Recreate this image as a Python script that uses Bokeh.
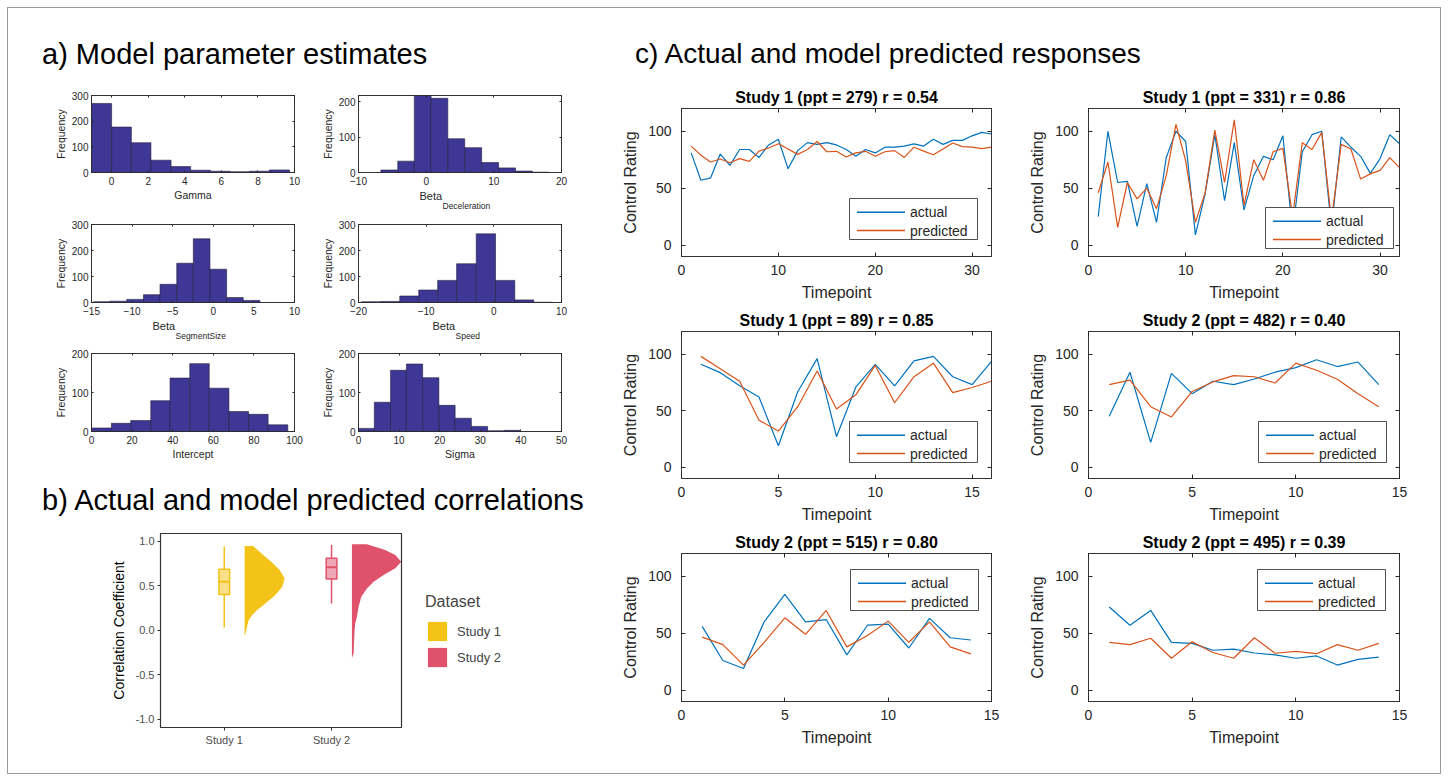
from bokeh.plotting import figure
from bokeh.models import (Range1d, LinearAxis, FixedTicker, Legend, LegendItem, Title, Label,
                          BoxAnnotation, Div, NumeralTickFormatter)
from bokeh.layouts import row, column
from bokeh.embed import file_html
from bokeh.resources import INLINE

# ---------------- data: a) histograms ----------------
gamma_edges = [-1.09, 0.0, 1.08, 2.15, 3.25, 4.32, 5.40, 6.48, 7.55, 8.63, 9.73]
gamma_counts = [269, 177, 116, 48, 23, 9, 5, 3, 5, 10]
decel_edges = [-6.7, -4.2, -1.75, 0.73, 3.2, 5.7, 8.2, 10.7, 13.2, 15.7, 18.2]
decel_counts = [7, 32, 217, 209, 95, 70, 28, 13, 4, 1]
segsize_edges = [-14.75, -12.75, -10.66, -8.6, -6.56, -4.5, -2.46, -0.41, 1.64, 3.69, 5.74]
segsize_counts = [3, 5, 12, 30, 70, 151, 245, 128, 19, 8]
speed_edges = [-19.56, -16.7, -13.9, -11.1, -8.3, -5.5, -2.6, 0.25, 3.1, 5.9, 8.7]
speed_counts = [3, 4, 25, 48, 85, 149, 264, 85, 10, 1]
intercept_edges = [0, 9.8, 19.3, 29.2, 38.7, 48.4, 58.0, 67.7, 77.4, 87.0, 96.7]
intercept_counts = [9, 21, 28, 79, 137, 174, 111, 51, 44, 17]
sigma_edges = [0, 3.9, 7.9, 11.8, 15.8, 19.8, 23.8, 27.8, 31.8, 35.9, 39.9]
sigma_counts = [8, 75, 157, 173, 138, 67, 34, 13, 2, 3]

# ---------------- data: b) raincloud ----------------
study_names = ["Study 1", "Study 2"]
study_pos = [1, 2]
violin_base = [1.19, 2.19]
s1_y = [-0.064, -0.037, 0.038, 0.113, 0.169, 0.225, 0.301, 0.395, 0.488, 0.583, 0.676, 0.752, 0.865, 0.947]
s1_w = [0.0, 0.009, 0.022, 0.037, 0.068, 0.115, 0.193, 0.286, 0.351, 0.373, 0.326, 0.264, 0.155, 0.078]
s2_y = [-0.312, -0.263, -0.15, 0.0, 0.075, 0.15, 0.263, 0.376, 0.47, 0.545, 0.62, 0.696, 0.77, 0.846, 0.902, 0.966]
s2_w = [0.0, 0.016, 0.019, 0.025, 0.031, 0.047, 0.062, 0.087, 0.14, 0.202, 0.295, 0.404, 0.46, 0.404, 0.31, 0.14]
whisk_lo = [0.03, 0.30]
whisk_hi = [0.94, 0.958]
q1 = [0.40, 0.575]
median = [0.545, 0.707]
q3 = [0.684, 0.81]

# ---------------- data: c) time series ----------------
series_labels = ["actual", "predicted"]
p279_actual = [81, 57, 59, 80, 70, 84, 84, 77, 88, 93, 67, 83, 90, 88.5, 90, 88, 84, 78, 84, 81, 86, 86,
               87, 89, 87, 93, 88.5, 92, 92, 96, 99, 97.6]
p279_pred = [87, 79, 73, 75.6, 72.4, 76, 73.5, 82.6, 85.3, 89, 84.4, 79.7, 84, 91, 82, 82.4, 77.4, 81, 82.4,
             78, 82, 83, 77, 86, 82.6, 79.4, 84.4, 89.7, 86.5, 86, 84.7, 86]
p331_actual = [25, 100, 55, 56, 16.5, 54, 20, 77, 100, 91, 9, 45, 97, 39, 90, 31, 61, 78, 75, 96, 12, 82,
               97, 100, 15, 95, 86, 78, 63, 76, 97, 89]
p331_pred = [46, 73, 15.6, 55, 40.6, 50, 32, 61, 106, 74, 20, 46, 101, 55, 110, 35, 75, 57, 82, 85, 25, 90,
             84, 99, 22, 88.5, 84.4, 58, 62.6, 65.6, 76.8, 68]
p89_actual = [91, 83.6, 72, 62, 19, 66.7, 96, 27, 71, 91, 72, 94, 98, 80, 73, 93.5]
p89_pred = [98, 87, 76, 41.5, 32, 53.5, 85, 51.5, 64, 90, 57, 80, 92, 66, 70.5, 76]
p482_actual = [45, 84, 22, 83, 65, 76, 73, 78, 84, 88, 95, 89, 93, 73]
p482_pred = [73, 77, 53.5, 44.4, 67, 75.4, 81, 80, 74.5, 92, 85.7, 77.8, 65, 53.5]
p515_actual = [56, 26, 19, 60, 84, 60, 62, 31, 57, 58, 37, 63, 46, 44]
p515_pred = [46.5, 40, 22, 42, 63.5, 49, 70, 38, 48, 60.6, 42, 60, 38, 31.8]
p495_actual = [73, 57, 70, 42, 41, 35, 36, 32.6, 31, 28, 30, 22, 27, 29]
p495_pred = [42, 40, 45.6, 28, 42.4, 33, 28, 46, 32.4, 34, 32, 40, 35, 41]

# ---------------- styling ----------------
FONT = "Liberation Sans"
MAT = "#262626"
BAR = "#3F3796"
BLUE = "#0072BD"
ORANGE = "#D95319"
YEL = "#F4C318"
YEL_L = "#F8DF8A"
PINK = "#E0526C"
PINK_L = "#EEA7B4"


def base_fig(w, h, xr, yr, bl, br, bt, bb):
    p = figure(width=w, height=h, x_range=Range1d(*xr), y_range=Range1d(*yr),
               min_border_left=bl, min_border_right=br, min_border_top=bt, min_border_bottom=bb,
               output_backend="svg", toolbar_location=None)
    p.xgrid.visible = False
    p.ygrid.visible = False
    p.background_fill_color = "white"
    p.border_fill_color = "white"
    return p


def dummy_axis(ticks, tick_len):
    return LinearAxis(ticker=FixedTicker(ticks=ticks), axis_label=None,
                      major_label_text_font_size="1px", major_label_text_color=None,
                      major_label_standoff=0, major_tick_in=tick_len, major_tick_out=0,
                      minor_tick_line_color=None, axis_line_color=MAT, axis_line_alpha=0.75,
                      major_tick_line_color=MAT)


def matlab_axes(p, xticks, yticks, tick_fs, lab_fs, tick_len, xstand, ystand, xlabstand, ylabstand,
                xlabel, ylabel):
    xa = p.below[0]
    ya = p.left[0]
    p.outline_line_color = MAT
    p.outline_line_width = 1
    p.outline_line_alpha = 0.75
    xa.ticker = FixedTicker(ticks=xticks)
    ya.ticker = FixedTicker(ticks=yticks)
    for ax in (xa, ya):
        ax.major_tick_in = tick_len
        ax.major_tick_out = 0
        ax.minor_tick_line_color = None
        ax.axis_line_color = MAT
        ax.axis_line_alpha = 0.75
        ax.major_tick_line_color = MAT
        ax.major_label_text_font = FONT
        ax.major_label_text_font_size = tick_fs
        ax.major_label_text_color = MAT
        ax.axis_label_text_font = FONT
        ax.axis_label_text_font_size = lab_fs
        ax.axis_label_text_font_style = "normal"
        ax.axis_label_text_color = MAT
    xa.major_label_standoff = xstand
    ya.major_label_standoff = ystand
    xa.axis_label_standoff = xlabstand
    ya.axis_label_standoff = ylabstand
    if xlabel:
        xa.axis_label = xlabel
    if ylabel:
        ya.axis_label = ylabel
    p.add_layout(dummy_axis(xticks, tick_len), "above")
    p.add_layout(dummy_axis(yticks, tick_len), "right")


def hist(w, h, bl, br, bt, bb, xr, yr, xticks, yticks, edges, counts, xlabel):
    p = base_fig(w, h, xr, yr, bl, br, bt, bb)
    p.quad(left=edges[:-1], right=edges[1:], bottom=0, top=counts,
           fill_color=BAR, line_color="#20203a", line_width=0.6)
    matlab_axes(p, xticks, yticks, "10px", "10.5px", 2, 4, 3, 1, 2, xlabel, "Frequency")
    return p


def beta_label(p, sub, main_off, sub_off):
    p.add_layout(Title(text="Beta", align="left", offset=main_off, standoff=0,
                       vertical_align="bottom", text_font=FONT, text_font_size="11px",
                       text_font_style="normal", text_color=MAT), "below")
    p.add_layout(Title(text=sub, align="left", offset=sub_off, standoff=-6,
                       vertical_align="bottom", text_font=FONT, text_font_size="8.5px",
                       text_font_style="normal", text_color=MAT), "below")


h1 = hist(307, 130, 83, 21, 15, 38, (-1.1, 10), (0, 300), [0, 2, 4, 6, 8, 10], [0, 100, 200, 300],
          gamma_edges, gamma_counts, "Gamma")
h2 = hist(285, 130, 43, 39, 15, 38, (-10, 20), (0, 217), [-10, 0, 10, 20], [0, 100, 200],
          decel_edges, decel_counts, None)
beta_label(h2, "Deceleration", 61, 84)
h3 = hist(307, 132, 83, 21, 14, 40, (-15, 10), (0, 300), [-15, -10, -5, 0, 5, 10], [0, 100, 200, 300],
          segsize_edges, segsize_counts, None)
beta_label(h3, "SegmentSize", 61, 84)
h4 = hist(285, 132, 43, 39, 14, 40, (-20, 10), (0, 300), [-20, -10, 0, 10], [0, 100, 200, 300],
          speed_edges, speed_counts, None)
beta_label(h4, "Speed", 74, 97)
h5 = hist(307, 128, 83, 21, 11, 39, (0, 100), (0, 200), [0, 20, 40, 60, 80, 100], [0, 100, 200],
          intercept_edges, intercept_counts, "Intercept")
h6 = hist(285, 128, 43, 39, 11, 39, (0, 50), (0, 200), [0, 10, 20, 30, 40, 50], [0, 100, 200],
          sigma_edges, sigma_counts, "Sigma")

# ---------------- b) raincloud ----------------
pv = base_fig(407, 253, (0.406, 2.652), (-1.094, 1.087), 152, 14, 13, 46)
pv.outline_line_color = "#333333"
pv.outline_line_width = 1.2
violin_shapes = []
for base, ys, ws in ((violin_base[0], s1_y, s1_w), (violin_base[1], s2_y, s2_w)):
    xs = [base + w for w in ws] + [base, base]
    yy = list(ys) + [ys[-1], ys[0]]
    violin_shapes.append((xs, yy))
for (xs, yy), col in zip(violin_shapes, (YEL, PINK)):
    pv.patch(xs, yy, fill_color=col, line_color=None)
for i in range(2):
    col = [YEL, PINK][i]
    light = [YEL_L, PINK_L][i]
    x = study_pos[i]
    pv.segment(x0=[x, x], y0=[whisk_lo[i], q3[i]], x1=[x, x], y1=[q1[i], whisk_hi[i]],
               line_color=col, line_width=1.5)
    pv.quad(left=[x - 0.05], right=[x + 0.05], bottom=[q1[i]], top=[q3[i]],
            fill_color=light, line_color=col, line_width=1.5)
    pv.segment(x0=[x - 0.05], y0=[median[i]], x1=[x + 0.05], y1=[median[i]],
               line_color=col, line_width=2)
pv.xaxis.ticker = study_pos
pv.xaxis.major_label_overrides = {1: study_names[0], 2: study_names[1]}
pv.yaxis.ticker = [-1.0, -0.5, 0.0, 0.5, 1.0]
pv.yaxis.formatter = NumeralTickFormatter(format="0.0")
for ax in (pv.xaxis[0], pv.yaxis[0]):
    ax.axis_line_color = None
    ax.major_tick_in = 0
    ax.major_tick_out = 3
    ax.minor_tick_line_color = None
    ax.major_tick_line_color = "#333333"
    ax.major_label_text_font = FONT
    ax.major_label_text_font_size = "11px"
    ax.major_label_text_color = "#4D4D4D"
    ax.axis_label_text_font = FONT
    ax.axis_label_text_font_size = "14px"
    ax.axis_label_text_font_style = "normal"
    ax.axis_label_text_color = "black"
    ax.major_label_standoff = 3
pv.yaxis.axis_label = "Correlation Coefficient"
pv.yaxis.axis_label_standoff = 6

# legend panel for the raincloud plot (keys reuse the violin shapes, kept out of view)
lp = figure(width=185, height=253, x_range=Range1d(10, 11), y_range=Range1d(10, 11),
            x_axis_type=None, y_axis_type=None, min_border=0, output_backend="svg",
            toolbar_location=None)
lp.outline_line_color = None
lp.xgrid.visible = False
lp.ygrid.visible = False
keys = [lp.patch(xs, yy, fill_color=col, line_color=None)
        for (xs, yy), col in zip(violin_shapes, (YEL, PINK))]
leg = Legend(items=[LegendItem(label=study_names[0], renderers=[keys[0]]),
                    LegendItem(label=study_names[1], renderers=[keys[1]])],
             title="Dataset", location=(0, 48))
leg.title_text_font = FONT
leg.title_text_font_size = "16px"
leg.title_text_font_style = "normal"
leg.title_standoff = 8
leg.label_text_font = FONT
leg.label_text_font_size = "13px"
leg.glyph_width = 24
leg.glyph_height = 24
leg.spacing = 2
leg.padding = 10
leg.margin = 0
leg.label_standoff = 8
leg.border_line_alpha = 0
leg.background_fill_alpha = 0
lp.add_layout(leg, "center")

# ---------------- c) time series ----------------
BOX_W, BOX_H = 128, 41          # legend box size in px
KEY_X0, KEY_X1, TEXT_X = 7.5, 55.5, 60.5
ROW_Y = [27.3, 9.0]             # row centres (px above the box bottom)


def ts_key(p, xr, yr, fw, fh, ox, oy, colors):
    """MATLAB-style legend box, placed in pixels relative to the frame."""
    def X(px):
        return xr[0] + px * (xr[1] - xr[0]) / fw

    def Y(py):
        return yr[0] + py * (yr[1] - yr[0]) / fh

    p.add_layout(BoxAnnotation(left=X(ox), right=X(ox + BOX_W), bottom=Y(oy), top=Y(oy + BOX_H),
                               fill_color="white", fill_alpha=1, line_color=MAT, line_alpha=0.8,
                               line_width=1))
    for lab, col, ry in zip(series_labels, colors, ROW_Y):
        p.add_layout(BoxAnnotation(left=X(ox + KEY_X0), right=X(ox + KEY_X1),
                                   bottom=Y(oy + ry - 0.7), top=Y(oy + ry + 0.7),
                                   fill_color=col, fill_alpha=1, line_color=None))
        p.add_layout(Label(x=X(ox + TEXT_X), y=Y(oy + ry), text=lab, text_align="left",
                           text_baseline="middle", text_font=FONT, text_font_size="14px",
                           text_color=MAT))


def ts(w, h, bl, br, bt, bb, xmax, xticks, actual, pred, title, lx, ly):
    xr, yr = (0, xmax), (-10, 120)
    p = base_fig(w, h, xr, yr, bl, br, bt, bb)
    xs = list(range(1, len(actual) + 1))
    p.line(xs, actual, line_color=BLUE, line_width=1.2)
    p.line(xs, pred, line_color=ORANGE, line_width=1.2)
    matlab_axes(p, xticks, [0, 50, 100], "14px", "16px", 4, 8, 10, 6, 6,
                "Timepoint", "Control Rating")
    p.title.text = title
    p.title.align = "center"
    p.title.text_font = FONT
    p.title.text_font_size = "16px"
    p.title.text_font_style = "bold"
    p.title.text_color = "black"
    p.title.standoff = 6
    ts_key(p, xr, yr, w - bl - br, h - bt - bb, lx, ly, (BLUE, ORANGE))
    return p


l1 = ts(420, 225, 81, 29, 28, 49, 32, [0, 10, 20, 30], p279_actual, p279_pred,
        "Study 1 (ppt = 279) r = 0.54", 168, 17)
l2 = ts(420, 225, 68, 41, 28, 49, 32, [0, 10, 20, 30], p331_actual, p331_pred,
        "Study 1 (ppt = 331) r = 0.86", 177, 8)
l3 = ts(420, 222, 81, 29, 26, 49, 16, [0, 5, 10, 15], p89_actual, p89_pred,
        "Study 1 (ppt = 89) r = 0.85", 168, 16)
l4 = ts(420, 222, 68, 41, 26, 49, 15, [0, 5, 10, 15], p482_actual, p482_pred,
        "Study 2 (ppt = 482) r = 0.40", 170, 16)
l5 = ts(420, 246, 81, 29, 26, 72, 15, [0, 5, 10, 15], p515_actual, p515_pred,
        "Study 2 (ppt = 515) r = 0.80", 169, 91)
l6 = ts(420, 246, 68, 41, 26, 72, 15, [0, 5, 10, 15], p495_actual, p495_pred,
        "Study 2 (ppt = 495) r = 0.39", 169, 91)


def heading(text, w, h, pad_top, pad_left, fs):
    html = ('<div style="font-family:\'Liberation Sans\';font-size:%dpx;line-height:28px;'
            'padding-top:%dpx;padding-left:%dpx;white-space:nowrap;color:#000;margin:0;">%s</div>'
            % (fs, pad_top, pad_left, text))
    return Div(text=html, width=w, height=h, margin=0)


div_a = heading("a) Model parameter estimates", 592, 72, 32, 34, 29)
div_b = heading("b) Actual and model predicted correlations", 592, 50, 16, 34, 29)
div_c = heading("c) Actual and model predicted responses", 840, 72, 32, 35, 28)

left_col = column(row(h1, h2), row(h3, h4), row(h5, h6), div_b, row(pv, lp))
right_col = column(row(l1, l2), row(l3, l4), row(l5, l6))
layout = column(row(div_a, div_c), row(left_col, right_col),
                margin=(8, 0, 0, 8), styles={"outline": "1px solid #9a9a9a"})

open("out.html", "w").write(file_html(layout, INLINE))
